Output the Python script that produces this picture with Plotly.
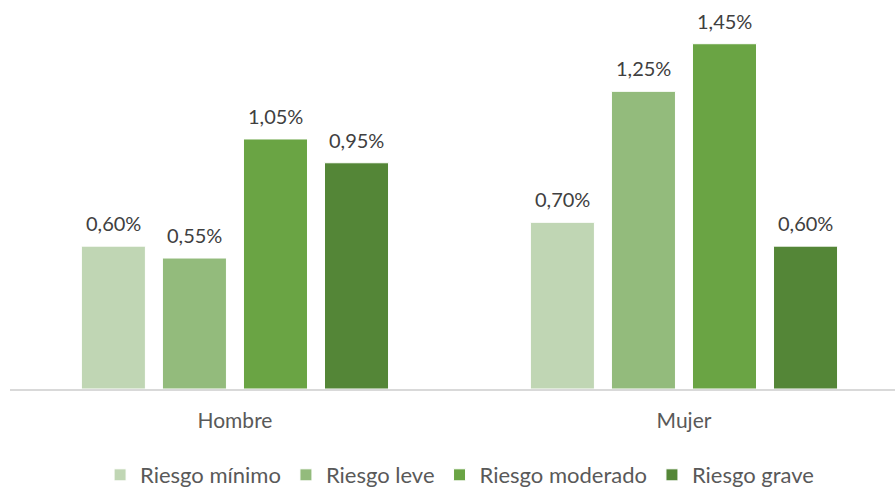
import plotly.graph_objects as go

categories = ["Hombre", "Mujer"]
series_names = ["Riesgo mínimo", "Riesgo leve", "Riesgo moderado", "Riesgo grave"]
values = {
    "Riesgo mínimo": [0.60, 0.70],
    "Riesgo leve": [0.55, 1.25],
    "Riesgo moderado": [1.05, 1.45],
    "Riesgo grave": [0.95, 0.60],
}
colors = ["#C0D6B4", "#93BB7C", "#6AA444", "#548637"]

FONT = "Lato"
fig = go.Figure()
slot_px = 81
for i, (name, col) in enumerate(zip(series_names, colors)):
    vals = values[name]
    fig.add_trace(go.Bar(
        x=categories, y=vals, name=name,
        marker=dict(color=col, line=dict(color="white", width=1)),
    ))
    for cat, v in zip(categories, vals):
        fig.add_annotation(
            x=cat, y=v, text=f"{v:.2f}%".replace(".", ","),
            showarrow=False, yanchor="bottom", yshift=9,
            xshift=(i - 1.5) * slot_px,
            font=dict(family=FONT, size=20, color="#404040"),
        )

fig.update_layout(
    width=895, height=489,
    margin=dict(l=10, r=0, t=8, b=100),
    paper_bgcolor="white", plot_bgcolor="white",
    barmode="group", bargap=0.278, bargroupgap=0.21,
    font=dict(family=FONT, size=21, color="#595959"),
    showlegend=True,
    legend=dict(orientation="h", x=0.508, xanchor="center", yref="container", y=0.0286, yanchor="middle",
                font=dict(family=FONT, size=22, color="#595959"), itemwidth=30, traceorder="normal"),
    xaxis=dict(range=[-0.501, 1.470], showline=True, linecolor="#D9D9D9", linewidth=1.5,
               showgrid=False, ticks="", ticklabelstandoff=12,
               tickfont=dict(family=FONT, size=21, color="#595959")),
    yaxis=dict(range=[0, 1.6], showgrid=False, showticklabels=False, zeroline=False, showline=False),
)
fig.write_html("out.html", config={"displayModeBar": False},
               post_script="document.body.style.margin='0';document.body.style.padding='0';")
